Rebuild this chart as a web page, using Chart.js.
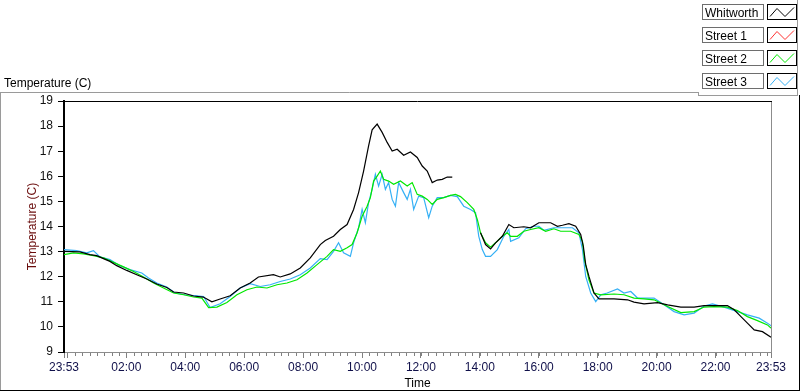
<!DOCTYPE html>
<html>
<head>
<meta charset="utf-8">
<title>Temperature (C)</title>
<script src="https://cdn.jsdelivr.net/npm/chart.js@4.4.1/dist/chart.umd.min.js"></script>
<style>
  html, body { margin: 0; padding: 0; background: #ffffff; }
  canvas { display: block; }
</style>
</head>
<body>
<canvas id="tempChart" width="800" height="392"></canvas>
<script>
// =========================================
// DATA (hours after 23:53, temperature in C)
// =========================================
const whitworthHours = [0, 0.54, 0.88, 1.11, 1.34, 1.56, 1.79, 2.13, 2.47, 2.81, 3.15, 3.49, 3.72, 4.06, 4.40, 4.73, 5.02, 5.30, 5.64, 5.98, 6.32, 6.60, 7.11, 7.34, 7.68, 8.02, 8.36, 8.70, 8.87, 9.15, 9.38, 9.61, 9.83, 10.00, 10.17, 10.34, 10.46, 10.63, 10.80, 10.97, 11.14, 11.31, 11.53, 11.76, 11.99, 12.16, 12.33, 12.50, 12.67, 12.84, 13.01, 13.18, 13.60, 14.14, 14.31, 14.48, 14.65, 14.88, 15.10, 15.27, 15.61, 15.84, 16.12, 16.52, 16.75, 16.92, 17.14, 17.37, 17.54, 17.63, 17.71, 17.82, 17.99, 18.16, 18.67, 19.13, 19.35, 19.69, 20.15, 20.49, 20.94, 21.39, 21.73, 22.07, 22.52, 22.75, 22.98, 23.20, 23.43, 23.71, 24];
const whitworthTemp = [13.01, 12.99, 12.88, 12.84, 12.72, 12.61, 12.44, 12.25, 12.08, 11.91, 11.71, 11.57, 11.39, 11.35, 11.23, 11.19, 11.00, 11.11, 11.24, 11.55, 11.75, 11.99, 12.08, 11.99, 12.11, 12.35, 12.75, 13.28, 13.44, 13.61, 13.88, 14.08, 14.68, 15.35, 16.21, 17.21, 17.85, 18.08, 17.75, 17.35, 17.01, 17.08, 16.84, 16.97, 16.75, 16.41, 16.21, 15.75, 15.85, 15.88, 15.97, 15.97, null, 13.75, 13.28, 13.11, 13.35, 13.61, 14.08, 13.95, 13.99, 13.95, 14.15, 14.15, 14.01, 14.05, 14.11, 14.01, 13.68, 13.21, 12.48, 12.01, 11.35, 11.12, 11.12, 11.08, 10.99, 10.92, 10.97, 10.88, 10.79, 10.79, 10.85, 10.85, 10.85, 10.68, 10.41, 10.15, 9.88, 9.81, 9.59];

const street1Hours = [];
const street1Temp = [];

const street2Hours = [0, 0.32, 0.66, 1.00, 1.34, 1.68, 2.02, 2.36, 2.70, 3.04, 3.38, 3.72, 4.06, 4.40, 4.68, 4.91, 5.19, 5.53, 5.87, 6.21, 6.55, 6.89, 7.23, 7.57, 7.91, 8.25, 8.59, 8.93, 9.15, 9.38, 9.61, 9.78, 9.95, 10.12, 10.29, 10.40, 10.51, 10.63, 10.74, 10.85, 11.02, 11.19, 11.42, 11.65, 11.82, 11.99, 12.16, 12.33, 12.50, 12.67, 12.89, 13.12, 13.29, 13.46, 13.69, 13.91, 14.03, 14.14, 14.31, 14.48, 14.65, 14.88, 15.05, 15.16, 15.39, 15.61, 15.84, 16.12, 16.35, 16.63, 16.86, 17.20, 17.48, 17.60, 17.67, 17.82, 17.99, 18.22, 18.67, 19.01, 19.35, 19.69, 20.03, 20.49, 20.94, 21.39, 21.73, 22.07, 22.52, 22.86, 23.20, 23.54, 23.88, 24];
const street2Temp = [12.88, 12.95, 12.91, 12.84, 12.75, 12.57, 12.39, 12.21, 11.99, 11.75, 11.55, 11.35, 11.28, 11.19, 11.15, 10.77, 10.79, 10.97, 11.28, 11.48, 11.59, 11.55, 11.68, 11.75, 11.88, 12.15, 12.48, 12.81, 13.08, 13.01, 13.15, 13.28, 13.75, 14.41, 14.81, 15.15, 15.81, 16.01, 16.21, 15.88, 15.81, 15.68, 15.81, 15.61, 15.75, 15.28, 15.21, 15.08, 14.88, 15.08, 15.15, 15.24, 15.28, 15.19, 14.95, 14.68, 14.28, 13.75, 13.35, 13.18, 13.35, 13.61, 13.75, 13.61, 13.61, 13.81, 13.88, 13.95, 13.81, 13.91, 13.81, 13.81, 13.68, 13.41, 12.68, 11.88, 11.35, 11.28, 11.31, 11.28, 11.15, 11.12, 11.08, 10.81, 10.57, 10.61, 10.79, 10.81, 10.79, 10.65, 10.41, 10.25, 10.08, 9.95];

const street3Hours = [0, 0.43, 0.77, 1.00, 1.22, 1.56, 1.90, 2.24, 2.64, 2.87, 3.15, 3.49, 3.77, 4.11, 4.51, 4.74, 4.96, 5.30, 5.64, 5.98, 6.32, 6.66, 7.00, 7.34, 7.68, 8.02, 8.36, 8.70, 8.93, 9.15, 9.32, 9.49, 9.72, 9.83, 10.00, 10.12, 10.23, 10.34, 10.46, 10.57, 10.68, 10.80, 10.91, 11.02, 11.14, 11.25, 11.36, 11.53, 11.65, 11.76, 11.87, 12.04, 12.21, 12.38, 12.50, 12.67, 12.89, 13.12, 13.35, 13.57, 13.80, 13.97, 14.08, 14.20, 14.31, 14.48, 14.71, 14.93, 15.10, 15.16, 15.44, 15.67, 15.95, 16.12, 16.29, 16.63, 16.97, 17.26, 17.48, 17.60, 17.71, 17.88, 18.05, 18.22, 18.44, 18.79, 19.01, 19.24, 19.47, 19.81, 20.03, 20.37, 20.71, 21.05, 21.39, 21.73, 22.01, 22.41, 22.86, 23.20, 23.60, 23.88, 24];
const street3Temp = [13.08, 13.04, 12.95, 13.04, 12.79, 12.68, 12.44, 12.28, 12.15, 11.95, 11.75, 11.59, 11.35, 11.28, 11.24, 11.21, 10.77, 10.92, 11.21, 11.55, 11.72, 11.61, 11.68, 11.81, 11.91, 12.08, 12.35, 12.72, 12.68, 13.01, 13.35, 12.95, 12.81, 13.35, 13.95, 14.68, 14.15, 14.95, 15.48, 16.08, 15.61, 16.08, 15.48, 15.75, 15.08, 14.81, 15.75, 15.35, 15.08, 15.48, 14.68, 15.21, 15.15, 14.35, 14.81, 15.15, 15.15, 15.24, 15.19, 14.81, 14.68, 14.55, 13.61, 13.08, 12.81, 12.81, 13.08, 13.61, 13.88, 13.41, 13.55, 13.91, 14.01, 14.01, 13.85, 13.95, 13.95, 13.95, 13.75, 13.08, 12.01, 11.35, 11.01, 11.28, 11.35, 11.51, 11.35, 11.41, 11.15, 11.15, 11.15, 10.88, 10.61, 10.48, 10.55, 10.83, 10.92, 10.79, 10.61, 10.48, 10.35, 10.15, 10.05];

// x axis labels (23:53 -> 23:53 next day)
const xTickHours = [0, 0.1167, 2.1167, 4.1167, 6.1167, 8.1167, 10.1167, 12.1167, 14.1167, 16.1167, 18.1167, 20.1167, 22.1167, 24];
const xTickLabels = ['23:53', '', '02:00', '04:00', '06:00', '08:00', '10:00', '12:00', '14:00', '16:00', '18:00', '20:00', '22:00', '23:53'];
const yTickValues = [9, 10, 11, 12, 13, 14, 15, 16, 17, 18, 19];

const fontName = "'Liberation Sans', Arial, sans-serif";

function toPoints(hours, temps) {
    return hours.map((h, i) => ({ x: h, y: temps[i] }));
}

function line(ctx, x1, y1, x2, y2) {
    ctx.beginPath();
    ctx.moveTo(x1, y1);
    ctx.lineTo(x2, y2);
    ctx.stroke();
}

// =========================================
// FRAME, MINOR TICKS, TOP LABEL AND LEGEND
// =========================================
const framePlugin = {
    id: 'frame',
    afterDraw(chart) {
        const ctx = chart.ctx;
        const area = chart.chartArea;
        const xScale = chart.scales.x;
        ctx.save();
        ctx.lineWidth = 1;

        // plot box: black top, grey right
        ctx.strokeStyle = '#000000';
        line(ctx, area.left - 1, area.top + 0.5, area.right + 1, area.top + 0.5);
        ctx.strokeStyle = '#8c8c8c';
        line(ctx, area.right + 0.5, area.top + 1, area.right + 0.5, area.bottom);

        // minor ticks every 15 minutes from 00:00
        ctx.strokeStyle = '#808080';
        for (let h = 0.1167; h < 24; h += 0.25) {
            const px = Math.round(xScale.getPixelForValue(h)) + 0.5;
            line(ctx, px, area.bottom + 1, px, area.bottom + 4);
        }

        // outer panel
        ctx.strokeStyle = '#9a9a9a';
        line(ctx, 0, 92.5, 698.5, 92.5);
        line(ctx, 698.5, 92, 698.5, 95.5);
        line(ctx, 698, 95.5, 797.5, 95.5);
        line(ctx, 797.5, 0, 797.5, 96);
        line(ctx, 0.5, 92, 0.5, 390);
        ctx.strokeStyle = '#000000';
        line(ctx, 799.5, 95, 799.5, 391);
        line(ctx, 0, 390.5, 800, 390.5);

        // plot name top left
        ctx.fillStyle = '#000000';
        ctx.font = '12px ' + fontName;
        ctx.textBaseline = 'alphabetic';
        ctx.textAlign = 'left';
        ctx.fillText('Temperature (C)', 4, 87);

        // legend boxes
        const rowTops = [4, 27, 50, 73];
        chart.data.datasets.forEach((ds, i) => {
            const top = rowTops[i] + 0.5;
            ctx.strokeStyle = '#6e6e6e';
            ctx.strokeRect(702.5, top, 61, 15);
            ctx.strokeStyle = '#000000';
            ctx.strokeRect(767.5, top, 29, 15);
            ctx.fillStyle = '#000000';
            ctx.fillText(ds.label, 705, top + 12);
            ctx.strokeStyle = ds.borderColor;
            ctx.beginPath();
            ctx.moveTo(770, top + 12);
            ctx.lineTo(777, top + 4);
            ctx.lineTo(785, top + 12);
            ctx.lineTo(794, top + 3);
            ctx.stroke();
        });
        ctx.restore();
    }
};

// =========================================
// CHART
// =========================================
const ctx = document.getElementById('tempChart').getContext('2d');

new Chart(ctx, {
    type: 'line',
    data: {
        datasets: [
            {
                label: 'Whitworth',
                data: toPoints(whitworthHours, whitworthTemp),
                borderColor: '#000000',
                borderWidth: 1.2,
                pointRadius: 0,
                tension: 0,
                spanGaps: false
            },
            {
                label: 'Street 1',
                data: toPoints(street1Hours, street1Temp),
                borderColor: '#ff3030',
                borderWidth: 1.2,
                pointRadius: 0,
                tension: 0
            },
            {
                label: 'Street 2',
                data: toPoints(street2Hours, street2Temp),
                borderColor: '#00e800',
                borderWidth: 1.2,
                pointRadius: 0,
                tension: 0
            },
            {
                label: 'Street 3',
                data: toPoints(street3Hours, street3Temp),
                borderColor: '#35b0f5',
                borderWidth: 1.2,
                pointRadius: 0,
                tension: 0
            }
        ]
    },
    options: {
        responsive: false,
        animation: false,
        devicePixelRatio: 1,
        layout: { padding: { top: 101, right: 29, left: 0, bottom: 0 } },
        plugins: {
            legend: { display: false },
            tooltip: { enabled: false }
        },
        scales: {
            x: {
                type: 'linear',
                min: 0,
                max: 24,
                afterBuildTicks: (scale) => { scale.ticks = xTickHours.map(v => ({ value: v })); },
                afterFit: (scale) => { scale.height = 40; },
                grid: { drawOnChartArea: false, color: '#808080', tickLength: 6 },
                border: { color: '#8c8c8c', width: 1 },
                ticks: {
                    autoSkip: false,
                    maxRotation: 0,
                    padding: 2,
                    color: '#10104a',
                    font: { family: fontName, size: 12 },
                    callback: (value) => {
                        const i = xTickHours.indexOf(value);
                        return i >= 0 ? xTickLabels[i] : '';
                    }
                },
                title: {
                    display: true,
                    text: 'Time',
                    color: '#000000',
                    font: { family: fontName, size: 12 },
                    padding: { top: 0, bottom: 1 }
                }
            },
            y: {
                min: 9,
                max: 19,
                afterBuildTicks: (scale) => { scale.ticks = yTickValues.map(v => ({ value: v })); },
                afterFit: (scale) => { scale.width = 64; },
                grid: { drawOnChartArea: false, color: '#000000', tickLength: 6 },
                border: { color: '#000000', width: 2 },
                ticks: {
                    padding: 5,
                    color: '#111111',
                    font: { family: fontName, size: 12 }
                },
                title: {
                    display: true,
                    text: 'Temperature (C)',
                    color: '#6a0c0c',
                    font: { family: fontName, size: 12 },
                    padding: { top: 25, bottom: 0 }
                }
            }
        }
    },
    plugins: [framePlugin]
});
</script>
</body>
</html>
